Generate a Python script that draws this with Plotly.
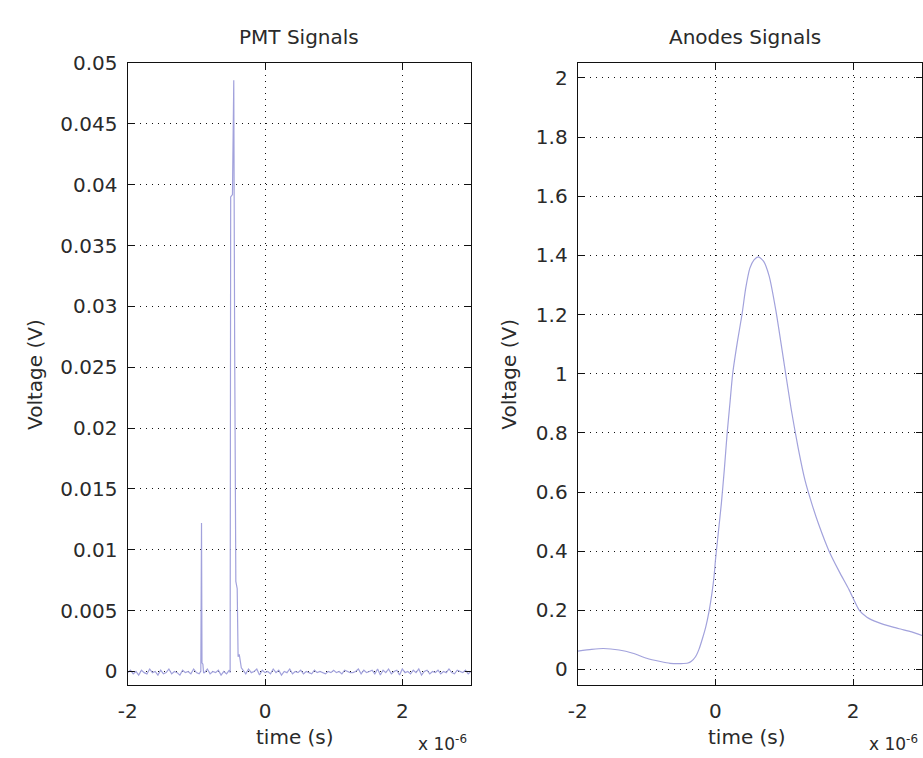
import plotly.graph_objects as go

# ---------------- data (time in units of 1e-6 s) ----------------
# PMT baseline segment 1 (before first spike)
pmt_t1 = [-2.00, -1.96, -1.92, -1.88, -1.84, -1.80, -1.76, -1.72, -1.68, -1.64,
          -1.60, -1.56, -1.52, -1.48, -1.44, -1.40, -1.36, -1.32, -1.28, -1.24,
          -1.20, -1.16, -1.12, -1.08, -1.04, -1.00, -0.96, -0.935]
pmt_v1 = [-1, 1, -2, 0, -3, 1, -1, -2, 2, -1, 0, -3, 1, -2, -1, 2, -2, 0, -1, -3,
          1, -1, 0, -2, 2, -1, -2, 0]  # x 1e-4 V
# first small spike
spk1_t = [-0.925, -0.918, -0.905, -0.895]
spk1_v = [0.0122, 0.0007, 0.0006, -0.0001]
# baseline segment 2
pmt_t2 = [-0.88, -0.84, -0.80, -0.76, -0.72, -0.68, -0.64, -0.60, -0.56, -0.52, -0.508]
pmt_v2 = [-1, 2, -2, 0, -1, 1, -3, 0, -2, 1, -1]  # x 1e-4 V
# main spike
spk2_t = [-0.500, -0.474, -0.455, -0.442, -0.436, -0.425, -0.405, -0.392, -0.375, -0.360, -0.345]
spk2_v = [0.0390, 0.0392, 0.0486, 0.0268, 0.0080, 0.0074, 0.0068, 0.0012, 0.0014, 0.0009, 0.0003]
# baseline segment 3
pmt_t3 = [-0.32, -0.28, -0.24, -0.20, -0.16, -0.12, -0.08, -0.04, 0.00, 0.04,
          0.08, 0.12, 0.16, 0.20, 0.24, 0.28, 0.32, 0.36, 0.40, 0.44,
          0.48, 0.52, 0.56, 0.60, 0.64, 0.68, 0.72, 0.76, 0.80, 0.84,
          0.88, 0.92, 0.96, 1.00, 1.04, 1.08, 1.12, 1.16, 1.20, 1.24,
          1.28, 1.32, 1.36, 1.40, 1.44, 1.48, 1.52, 1.56, 1.60, 1.64,
          1.68, 1.72, 1.76, 1.80, 1.84, 1.88, 1.92, 1.96, 2.00, 2.04,
          2.08, 2.12, 2.16, 2.20, 2.24, 2.28, 2.32, 2.36, 2.40, 2.44,
          2.48, 2.52, 2.56, 2.60, 2.64, 2.68, 2.72, 2.76, 2.80, 2.84,
          2.88, 2.92, 2.96, 3.00]
pmt_v3 = [1, -2, 2, -1, 0, 2, -3, 1, -1, 0, -2, 2, -1, 1, -3, 0, -1, 2, -2, 0,
          -1, 1, -2, 0, -1, -2, 1, -1, 0, -1, -2, 0, -1, 1, -1, 0, -2, 1, 0, -1,
          -1, 0, 2, -2, 1, -1, 0, 1, -2, 2, -3, 1, -1, 2, -2, 0, 1, -3, 2, -1,
          0, -2, 1, -1, 2, -3, 0, 1, -2, 0, -1, 1, -2, 0, -1, 2, -1, -2, 1, 0,
          -1, 1, -2, 0]  # x 1e-4 V

# Anode signal
anode_t = [-2.0, -1.8, -1.63, -1.4, -1.2, -1.0, -0.8, -0.66, -0.5, -0.4, -0.35, -0.29,
           -0.24, -0.19, -0.14, -0.094, -0.05, -0.02, 0.0, 0.04, 0.085, 0.13, 0.17,
           0.21, 0.25, 0.32, 0.385, 0.44, 0.5, 0.56, 0.625, 0.7, 0.78, 0.88, 1.0,
           1.1, 1.2, 1.3, 1.4, 1.5, 1.65, 1.8, 1.94, 2.09, 2.2, 2.35, 2.58, 2.7,
           2.85, 3.0]
anode_v = [0.062, 0.068, 0.071, 0.066, 0.055, 0.038, 0.027, 0.021, 0.020, 0.022, 0.028,
           0.043, 0.068, 0.104, 0.145, 0.196, 0.26, 0.316, 0.37, 0.46, 0.56, 0.68, 0.80,
           0.90, 1.00, 1.11, 1.20, 1.29, 1.357, 1.385, 1.395, 1.38, 1.33, 1.21, 1.03,
           0.88, 0.75, 0.64, 0.56, 0.49, 0.40, 0.33, 0.27, 0.20, 0.177, 0.16, 0.143,
           0.136, 0.127, 0.115]

pmt_yticks = [0, 0.005, 0.01, 0.015, 0.02, 0.025, 0.03, 0.035, 0.04, 0.045, 0.05]
pmt_ylabels = ["0", "0.005", "0.01", "0.015", "0.02", "0.025", "0.03", "0.035", "0.04", "0.045", "0.05"]
anode_yticks = [0, 0.2, 0.4, 0.6, 0.8, 1.0, 1.2, 1.4, 1.6, 1.8, 2.0]
anode_ylabels = ["0", "0.2", "0.4", "0.6", "0.8", "1", "1.2", "1.4", "1.6", "1.8", "2"]
x_ticks = [-2, 0, 2]
x_labels = ["-2", "0", "2"]

# ---------------- assemble ----------------
pmt_t = pmt_t1 + spk1_t + pmt_t2 + spk2_t + pmt_t3
pmt_v = ([v * 1e-4 for v in pmt_v1] + spk1_v + [v * 1e-4 for v in pmt_v2] +
         spk2_v + [v * 1e-4 for v in pmt_v3])

LINE = "#a2a2dc"
FONT = "DejaVu Sans"
FS = 20
TXT = "#2a2a2a"
W, H = 923, 758

fig = go.Figure()
fig.add_trace(go.Scatter(x=pmt_t, y=pmt_v, mode="lines",
                         line=dict(color=LINE, width=1.2), xaxis="x", yaxis="y",
                         showlegend=False, hoverinfo="skip"))
fig.add_trace(go.Scatter(x=anode_t, y=anode_v, mode="lines",
                         line=dict(color=LINE, width=1.2, shape="spline", smoothing=0.6),
                         xaxis="x2", yaxis="y2", showlegend=False, hoverinfo="skip"))

common = dict(showline=True, linecolor="#111", linewidth=1.3, mirror="ticks",
              ticks="inside", ticklen=6, tickcolor="#111", tickwidth=1.3,
              showgrid=True, gridcolor="#111", gridwidth=1, griddash="1px,5px",
              zeroline=False, tickfont=dict(family=FONT, size=FS, color=TXT))

ytop, ybot = 1 - 52 / H, 1 - 684 / H
fig.update_layout(
    width=W, height=H, margin=dict(l=0, r=0, t=0, b=0),
    paper_bgcolor="white", plot_bgcolor="white",
    xaxis=dict(domain=[119 / W, 466 / W], range=[-2, 3], tickmode="array",
               tickvals=x_ticks, ticktext=x_labels, anchor="y",
               ticklabelstandoff=8, **common),
    yaxis=dict(domain=[ybot, ytop], range=[-0.00113, 0.05], tickmode="array",
               tickvals=pmt_yticks, ticktext=pmt_ylabels, anchor="x",
               ticklabelstandoff=5, **common),
    xaxis2=dict(domain=[574 / W, 922 / W], range=[-2, 3], tickmode="array",
                tickvals=x_ticks, ticktext=x_labels, anchor="y2",
                ticklabelstandoff=8, **common),
    yaxis2=dict(domain=[ybot, ytop], range=[-0.053, 2.05], tickmode="array",
                tickvals=anode_yticks, ticktext=anode_ylabels, anchor="x2",
                ticklabelstandoff=5, **common),
)

tf = dict(family=FONT, size=FS, color=TXT)
ann = [
    dict(text="PMT Signals", x=292 / W, y=1 - 25 / H, xanchor="center", yanchor="middle"),
    dict(text="Anodes Signals", x=743 / W, y=1 - 25 / H, xanchor="center", yanchor="middle"),
    dict(text="time (s)", x=288 / W, y=1 - 737 / H, xanchor="center", yanchor="middle"),
    dict(text="time (s)", x=745 / W, y=1 - 737 / H, xanchor="center", yanchor="middle"),
    dict(text="Voltage (V)", x=25 / W, y=1 - 368 / H, xanchor="center", yanchor="middle",
         textangle=-90),
    dict(text="Voltage (V)", x=505 / W, y=1 - 368 / H, xanchor="center", yanchor="middle",
         textangle=-90),
]
for a in ann:
    fig.add_annotation(xref="paper", yref="paper", showarrow=False, font=tf, **a)

ef = dict(family=FONT, size=17, color=TXT)
for xr in (464, 920):
    fig.add_annotation(xref="paper", yref="paper", showarrow=False, font=ef,
                       text="x 10<sup>-6</sup>", x=xr / W, y=1 - 743 / H,
                       xanchor="right", yanchor="middle")

fig.write_html(
    "out.html",
    config={"displayModeBar": False},
    post_script="document.body.style.margin='0';document.body.style.overflow='hidden';",
)
